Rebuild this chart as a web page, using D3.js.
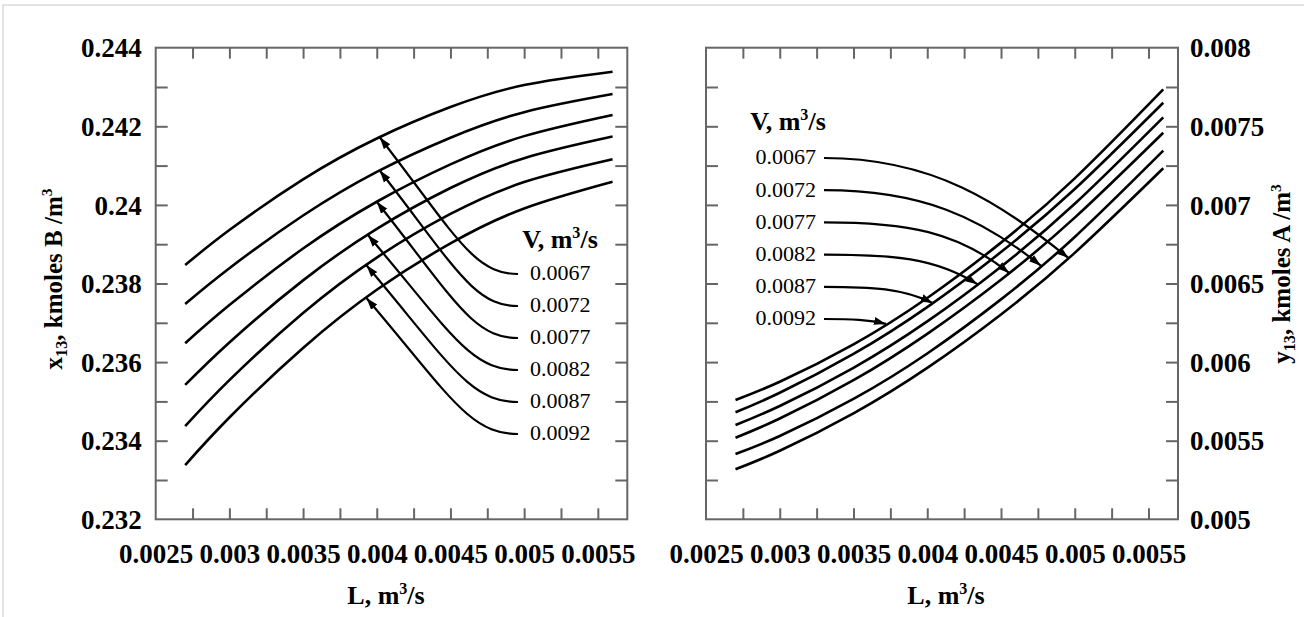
<!DOCTYPE html>
<html>
<head>
<meta charset="utf-8">
<script src="https://cdn.jsdelivr.net/npm/d3@7"></script>
<style>
  body { margin: 0; background: #fff; }
  svg { display: block; font-family: "Liberation Serif", "Times New Roman", serif; }
</style>
</head>
<body>
<svg id="chart" width="1304" height="617"></svg>
<script>
// liquid flow L, m3/s (same points on both panels)
const flowL = [0.0027, 0.003, 0.0035, 0.004, 0.0045, 0.005, 0.0056];
const vapourV = ["0.0067", "0.0072", "0.0077", "0.0082", "0.0087", "0.0092"];

// x13, kmoles B/m3, one row per V (0.0067 first)
const x13 = [
  [0.23847, 0.23936, 0.24065, 0.24169, 0.24249, 0.24305, 0.24339],
  [0.23748, 0.23839, 0.23973, 0.24084, 0.24171, 0.24236, 0.24282],
  [0.23648, 0.23745, 0.23889, 0.24008, 0.24103, 0.24175, 0.24229],
  [0.23542, 0.23650, 0.23808, 0.23939, 0.24043, 0.24119, 0.24174],
  [0.23437, 0.23554, 0.23725, 0.23866, 0.23977, 0.24058, 0.24116],
  [0.23338, 0.23459, 0.23636, 0.23784, 0.23902, 0.23991, 0.24059]
];

// y13, kmoles A/m3, one row per V (0.0067 first)
const y13 = [
  [0.005318, 0.005436, 0.005674, 0.005963, 0.006303, 0.006695, 0.007233],
  [0.005415, 0.005530, 0.005766, 0.006055, 0.006399, 0.006796, 0.007345],
  [0.005519, 0.005641, 0.005885, 0.006180, 0.006524, 0.006919, 0.007459],
  [0.005600, 0.005721, 0.005964, 0.006259, 0.006607, 0.007007, 0.007557],
  [0.005681, 0.005805, 0.006052, 0.006350, 0.006700, 0.007101, 0.007650],
  [0.005759, 0.005875, 0.006113, 0.006408, 0.006760, 0.007169, 0.007735]
];

// where each arrow touches its curve (L value)
const leftTipL = [0.00402, 0.00402, 0.0040, 0.00394, 0.00393, 0.00393];
const rightTipL = [0.004958, 0.00477, 0.004555, 0.00434, 0.004037, 0.00372];

// ticks and labels
const xLabels = [0.0025, 0.003, 0.0035, 0.004, 0.0045, 0.005, 0.0055];
const xMarks = [0.00275, 0.003, 0.00325, 0.0035, 0.00375, 0.004, 0.00425, 0.0045, 0.00475, 0.005, 0.00525, 0.0055];
const leftYLabels = [0.232, 0.234, 0.236, 0.238, 0.24, 0.242, 0.244];
const leftYMarks = [0.233, 0.234, 0.235, 0.236, 0.237, 0.238, 0.239, 0.24, 0.241, 0.242, 0.243];
const rightYLabels = [0.005, 0.0055, 0.006, 0.0065, 0.007, 0.0075, 0.008];
const rightYMarks = [0.00525, 0.0055, 0.00575, 0.006, 0.00625, 0.0065, 0.00675, 0.007, 0.00725, 0.0075, 0.00775];

const plotTop = 47.7, plotBottom = 519.3;
const frameColor = "#666";
const svg = d3.select("#chart");

// faint border of the original screenshot
svg.append("path").attr("d", "M3,617V5H1304").attr("fill", "none").attr("stroke", "#d9d9d9").attr("stroke-width", 1.5);

svg.append("defs").append("marker")
  .attr("id", "head")
  .attr("viewBox", "0 -5 12 10")
  .attr("refX", 12).attr("refY", 0)
  .attr("markerWidth", 12).attr("markerHeight", 10)
  .attr("markerUnits", "userSpaceOnUse")
  .attr("orient", "auto")
  .append("path").attr("d", "M0,-4L12,0L0,4Z").attr("fill", "#000");

function drawFrame(x, y, yMarks, yLabels, labelSide) {
  const [x0, x1] = x.range();
  const g = svg.append("g");

  const styleTicks = sel => {
    sel.select(".domain").remove();
    sel.selectAll("line").attr("stroke", frameColor).attr("stroke-width", 2);
  };

  g.append("g").attr("transform", `translate(0,${plotBottom})`)
    .call(d3.axisBottom(x).tickValues(xMarks).tickSize(-11).tickFormat("")).call(styleTicks);
  g.append("g").attr("transform", `translate(0,${plotTop})`)
    .call(d3.axisTop(x).tickValues(xMarks).tickSize(-11).tickFormat("")).call(styleTicks);
  g.append("g").attr("transform", `translate(${x0},0)`)
    .call(d3.axisLeft(y).tickValues(yMarks).tickSize(-12).tickFormat("")).call(styleTicks);
  g.append("g").attr("transform", `translate(${x1},0)`)
    .call(d3.axisRight(y).tickValues(yMarks).tickSize(-12).tickFormat("")).call(styleTicks);

  g.append("rect")
    .attr("x", x0).attr("y", plotTop)
    .attr("width", x1 - x0).attr("height", plotBottom - plotTop)
    .attr("fill", "none").attr("stroke", frameColor).attr("stroke-width", 2);

  // tick labels
  const labelStyle = sel => {
    sel.select(".domain").remove();
    sel.attr("font-family", null).attr("font-size", 27).attr("font-weight", "bold");
    sel.selectAll("text").attr("fill", "#000");
  };
  g.append("g").attr("transform", `translate(0,${plotBottom})`)
    .call(d3.axisBottom(x).tickValues(xLabels).tickSize(0).tickPadding(25).tickFormat(d => String(d)))
    .call(labelStyle);

  const yAxis = labelSide === "left"
    ? d3.axisLeft(y).tickPadding(14)
    : d3.axisRight(y).tickPadding(12);
  g.append("g").attr("transform", `translate(${labelSide === "left" ? x0 : x1},0)`)
    .call(yAxis.tickValues(yLabels).tickSize(0).tickFormat(d => String(d)))
    .call(labelStyle)
    .selectAll("text").attr("dy", "0.34em");
}

function titleText(g, parts, size) {
  const t = g.append("text").attr("text-anchor", "middle")
    .attr("font-size", size).attr("font-weight", "bold").attr("fill", "#000");
  parts.forEach(p => {
    const s = t.append("tspan").text(p.text);
    if (p.sub) s.attr("font-size", size * 0.65).attr("dy", size * 0.2);
    if (p.sup) s.attr("font-size", size * 0.62).attr("dy", -size * 0.38);
    if (p.back) s.attr("dy", p.back);
  });
  return t;
}

const line = (x, y) => d3.line().x(d => x(d[0])).y(d => y(d[1])).curve(d3.curveNatural);

// ---------- left panel ----------
const xL = d3.scaleLinear().domain([0.0025, 0.0057]).range([155.7, 627.3]);
const yL = d3.scaleLinear().domain([0.232, 0.244]).range([plotBottom, plotTop]);
drawFrame(xL, yL, leftYMarks, leftYLabels, "left");

svg.append("g").selectAll("path").data(x13).join("path")
  .attr("d", row => line(xL, yL)(flowL.map((l, i) => [l, row[i]])))
  .attr("fill", "none").attr("stroke", "#000").attr("stroke-width", 2.6);

// legend + arrows
const leftLeg = svg.append("g");
titleText(leftLeg.append("g").attr("transform", "translate(560,248)"),
  [{text: "V, m"}, {text: "3", sup: true}, {text: "/s", back: 26 * 0.38}], 26);

vapourV.forEach((v, i) => {
  const ly = 273 + i * 32;
  leftLeg.append("text").attr("x", 530).attr("y", ly).attr("dy", "0.34em")
    .attr("font-size", 22).text(v);
  const interp = d3.scaleLinear().domain(flowL).range(x13[i]);
  const S = [518, ly + 1];
  const T = [xL(leftTipL[i]), yL(interp(leftTipL[i]))];
  const dx = S[0] - T[0], dy = S[1] - T[1];
  const p = d3.path();
  p.moveTo(S[0], S[1]);
  p.bezierCurveTo(S[0] - 0.32 * dx, S[1], S[0] - 0.45 * dx, S[1] - 0.28 * dy, T[0], T[1]);
  leftLeg.append("path").attr("d", p.toString())
    .attr("fill", "none").attr("stroke", "#000").attr("stroke-width", 2.2)
    .attr("marker-end", "url(#head)");
});

titleText(svg.append("g").attr("transform", "translate(62,279) rotate(-90)"),
  [{text: "x"}, {text: "13", sub: true}, {text: ", kmoles B /m", back: -26 * 0.2}, {text: "3", sup: true}], 25);
titleText(svg.append("g").attr("transform", "translate(386,604)"),
  [{text: "L, m"}, {text: "3", sup: true}, {text: "/s", back: 26 * 0.38}], 26);

// ---------- right panel ----------
const xR = d3.scaleLinear().domain([0.0025, 0.0057]).range([706, 1178]);
const yR = d3.scaleLinear().domain([0.005, 0.008]).range([plotBottom, plotTop]);
drawFrame(xR, yR, rightYMarks, rightYLabels, "right");

svg.append("g").selectAll("path").data(y13).join("path")
  .attr("d", row => line(xR, yR)(flowL.map((l, i) => [l, row[i]])))
  .attr("fill", "none").attr("stroke", "#000").attr("stroke-width", 2.6);

const rightLeg = svg.append("g");
titleText(rightLeg.append("g").attr("transform", "translate(788,130)"),
  [{text: "V, m"}, {text: "3", sup: true}, {text: "/s", back: 26 * 0.38}], 26);

vapourV.forEach((v, i) => {
  const ly = 157 + i * 32.2;
  rightLeg.append("text").attr("x", 816).attr("y", ly).attr("dy", "0.34em")
    .attr("text-anchor", "end").attr("font-size", 22).text(v);
  const interp = d3.scaleLinear().domain(flowL).range(y13[i]);
  const S = [824, ly + 1];
  const T = [xR(rightTipL[i]), yR(interp(rightTipL[i]))];
  const dx = T[0] - S[0], dy = T[1] - S[1];
  const k = 0.28 * dx;
  const p = d3.path();
  p.moveTo(S[0], S[1]);
  p.bezierCurveTo(S[0] + 0.45 * dx, S[1], T[0] - k, T[1] - Math.min(0.8 * k, 0.9 * dy), T[0], T[1]);
  rightLeg.append("path").attr("d", p.toString())
    .attr("fill", "none").attr("stroke", "#000").attr("stroke-width", 2.2)
    .attr("marker-end", "url(#head)");
});

titleText(svg.append("g").attr("transform", "translate(1290,274) rotate(-90)"),
  [{text: "y"}, {text: "13", sub: true}, {text: ", kmoles A /m", back: -25 * 0.2}, {text: "3", sup: true}], 25);
titleText(svg.append("g").attr("transform", "translate(946,604)"),
  [{text: "L, m"}, {text: "3", sup: true}, {text: "/s", back: 26 * 0.38}], 26);
</script>
</body>
</html>
